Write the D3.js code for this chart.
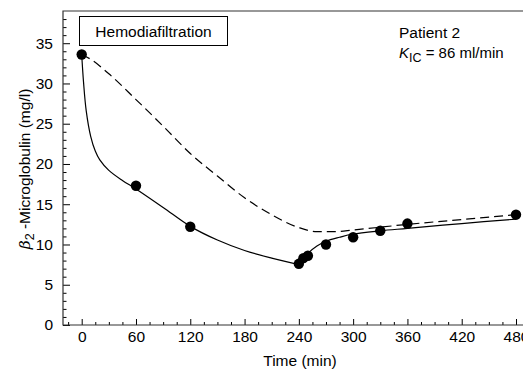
<!DOCTYPE html>
<html>
<head>
<meta charset="utf-8">
<script src="https://cdn.jsdelivr.net/npm/d3@7"></script>
<style>
  body { margin: 0; background: #fff; }
  svg { display: block; font-family: "Liberation Sans", Arial, sans-serif; }
</style>
</head>
<body>
<div id="chart"></div>
<script>
// measured points
var pointTimes  = [0, 60, 120, 240, 245, 250, 270, 300, 330, 360, 480];
var pointValues = [33.6, 17.3, 12.2, 7.6, 8.3, 8.6, 10.0, 10.9, 11.7, 12.6, 13.7];

// fitted model (solid), during and after treatment
var fitTimesA  = [0, 2, 5, 10, 15, 20, 30, 45, 60, 90, 120, 150, 180, 210, 240];
var fitValuesA = [33.6, 30.2, 26.6, 23.4, 21.6, 20.5, 19.2, 17.95, 16.9, 14.6, 12.25, 10.55, 9.25, 8.3, 7.5];
var fitTimesB  = [240, 245, 250, 260, 270, 285, 300, 330, 360, 420, 480];
var fitValuesB = [7.5, 8.3, 8.9, 9.8, 10.4, 10.9, 11.3, 11.7, 12.0, 12.6, 13.15];

// single pool model (dashed)
var dashTimes  = [0, 10, 30, 60, 90, 120, 150, 180, 210, 240, 260, 280, 300, 360, 420, 480];
var dashValues = [33.6, 33.0, 31.2, 28.0, 24.7, 21.3, 18.5, 15.8, 13.7, 12.1, 11.6, 11.6, 11.8, 12.5, 13.1, 13.7];

var xTicks = [0, 60, 120, 180, 240, 300, 360, 420, 480];
var yTicks = [0, 5, 10, 15, 20, 25, 30, 35];

var W = 523, H = 371;
var mLeft = 63, mTop = 11, mBottom = 325, mRight = 523;

var svg = d3.select('#chart').append('svg')
  .attr('width', W).attr('height', H);

var x = d3.scaleLinear().domain([0, 480]).range([81.7, 516]);
var y = d3.scaleLinear().domain([0, 39]).range([mBottom, mTop]);

//minor ticks
var xMinor = d3.range(-15, 481, 15).filter(function(d){ return xTicks.indexOf(d) < 0; });
var yMinor = d3.range(0, 39, 1).filter(function(d){ return yTicks.indexOf(d) < 0; });

var gx = svg.append('g')
  .attr('transform', 'translate(0,' + mBottom + ')')
  .call(d3.axisBottom(x).tickValues(xTicks).tickSizeInner(-6).tickSizeOuter(0).tickPadding(6));
gx.append('g').call(d3.axisBottom(x).tickValues(xMinor).tickSizeInner(-3).tickSizeOuter(0).tickFormat(''));

var gy = svg.append('g')
  .attr('transform', 'translate(' + mLeft + ',0)')
  .call(d3.axisLeft(y).tickValues(yTicks).tickSizeInner(-7).tickSizeOuter(0).tickPadding(10));
gy.append('g').call(d3.axisLeft(y).tickValues(yMinor).tickSizeInner(-3.5).tickSizeOuter(0).tickFormat(''));

svg.selectAll('.domain').remove();
svg.selectAll('.tick line').attr('stroke', '#000').attr('stroke-width', 1);
svg.selectAll('.tick text').attr('font-size', 15.5).attr('fill', '#000')
  .attr('font-family', '"Liberation Sans", Arial, sans-serif');
gx.selectAll('.tick text').attr('dy', '0.71em');

// frame lines
svg.append('path')
  .attr('d', 'M' + mRight + ',' + mTop + 'H' + mLeft + 'V' + mBottom + 'H' + mRight)
  .attr('fill', 'none').attr('stroke', '#333').attr('stroke-width', 1.2);

var line = d3.line()
  .x(function(d){ return x(d[0]); })
  .y(function(d){ return y(d[1]); })
  .curve(d3.curveMonotoneX);

var smooth = d3.line()
  .x(function(d){ return x(d[0]); })
  .y(function(d){ return y(d[1]); })
  .curve(d3.curveCatmullRom.alpha(0.5));

svg.append('path')
  .datum(d3.zip(dashTimes, dashValues))
  .attr('d', line)
  .attr('fill', 'none').attr('stroke', '#000').attr('stroke-width', 1.2)
  .attr('stroke-dasharray', '9,5');

[d3.zip(fitTimesA, fitValuesA), d3.zip(fitTimesB, fitValuesB)].forEach(function(seg){
  svg.append('path')
    .datum(seg)
    .attr('d', smooth)
    .attr('fill', 'none').attr('stroke', '#000').attr('stroke-width', 1.2);
});

svg.selectAll('circle.pt')
  .data(d3.zip(pointTimes, pointValues))
  .enter().append('circle')
  .attr('class', 'pt')
  .attr('cx', function(d){ return x(d[0]); })
  .attr('cy', function(d){ return y(d[1]); })
  .attr('r', 5.2)
  .attr('fill', '#000');

// legend box
svg.append('rect')
  .attr('x', 79.5).attr('y', 16.5).attr('width', 148).attr('height', 29)
  .attr('fill', '#fff').attr('stroke', '#000').attr('stroke-width', 1);
svg.append('text')
  .attr('x', 153.5).attr('y', 37)
  .attr('text-anchor', 'middle').attr('font-size', 15.5)
  .text('Hemodiafiltration');

svg.append('text')
  .attr('x', 399).attr('y', 38).attr('font-size', 15.5)
  .text('Patient 2');
var k = svg.append('text').attr('x', 399).attr('y', 58).attr('font-size', 15);
k.append('tspan').attr('font-style', 'italic').text('K');
k.append('tspan').attr('dy', 4).attr('font-size', 12.5).text('IC');
k.append('tspan').attr('dy', -4).text(' = 86 ml/min');

// axis titles
svg.append('text')
  .attr('x', 300).attr('y', 366)
  .attr('text-anchor', 'middle').attr('font-size', 15.5)
  .text('Time (min)');

var yl = svg.append('text')
  .attr('transform', 'translate(30,169) rotate(-90)')
  .attr('text-anchor', 'middle').attr('font-size', 15.5);
yl.append('tspan').attr('font-style', 'italic').attr('font-family', '"DejaVu Serif", serif').text('β');
yl.append('tspan').attr('dy', 4).attr('font-size', 12.5).text('2');
yl.append('tspan').attr('dy', -4).text(' -Microglobulin (mg/l)');
</script>
</body>
</html>
